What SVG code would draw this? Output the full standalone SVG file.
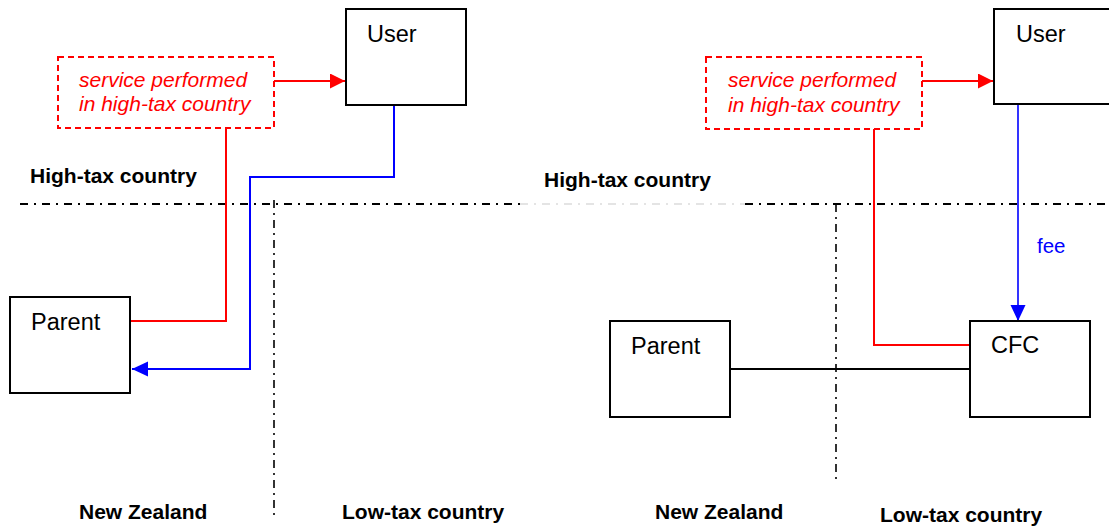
<svg xmlns="http://www.w3.org/2000/svg" width="1109" height="529" viewBox="0 0 1109 529">
<style>
.box{fill:#fff;stroke:#000;stroke-width:2}
.svc{fill:#fff;stroke:#ff0000;stroke-width:2;stroke-dasharray:6 4}
.lbl{font-family:"Liberation Sans",Arial,sans-serif;font-size:23.5px;fill:#000}
.it{font-family:"Liberation Sans",Arial,sans-serif;font-size:21px;font-style:italic;fill:#ff0000}
.bold{font-family:"Liberation Sans",Arial,sans-serif;font-size:21px;font-weight:bold;fill:#000}
.fee{font-family:"Liberation Sans",Arial,sans-serif;font-size:20.5px;fill:#0000ff}
.red{fill:none;stroke:#ff0000;stroke-width:2}
.blue{fill:none;stroke:#0000ff;stroke-width:2}
.blk{fill:none;stroke:#000;stroke-width:2}
.dd{fill:none;stroke:#000;stroke-width:2;stroke-dasharray:8 6 2 6}
.ddv{fill:none;stroke:#000;stroke-width:1.6;stroke-dasharray:8 5 2 5}
.ddg{fill:none;stroke:#dcdcdc;stroke-width:1.5;stroke-dasharray:8 6 2 6}
</style>
<defs>
<marker id="ar" markerWidth="16" markerHeight="16" refX="15" refY="7.5" orient="auto" markerUnits="userSpaceOnUse"><path d="M0,0 L15,7.5 L0,15 Z" fill="#ff0000"/></marker>
<marker id="ab" markerWidth="17" markerHeight="16" refX="16" refY="7.5" orient="auto" markerUnits="userSpaceOnUse"><path d="M0,0 L16,7.5 L0,15 Z" fill="#0000ff"/></marker>
</defs>
<g id="borders">
<path class="dd" d="M20,204 H520"/>
<path class="ddg" d="M520,204 H745"/>
<path class="dd" d="M745,204 H1109"/>
<path class="ddv" d="M274,200 V516"/>
<path class="ddv" d="M836,204 V483"/>
</g>
<g id="regions">
<text class="bold" x="30" y="183">High-tax country</text>
<text class="bold" x="544" y="187">High-tax country</text>
<text class="bold" x="79" y="519">New Zealand</text>
<text class="bold" x="342" y="519">Low-tax country</text>
<text class="bold" x="655" y="519">New Zealand</text>
<text class="bold" x="880" y="522">Low-tax country</text>
</g>
<g id="connectors">
<path class="red" d="M274,81 H345" marker-end="url(#ar)"/>
<path class="red" d="M226,128 V321 H130"/>
<path class="blue" d="M394,105 V177 H250 V369 H132" marker-end="url(#ab)"/>
<path class="red" d="M922,81 H993" marker-end="url(#ar)"/>
<path class="red" d="M874,129 V345 H970"/>
<path class="blue" style="stroke-width:1.6" d="M1018,104 V321" marker-end="url(#ab)"/>
<text class="fee" x="1037" y="253">fee</text>
<path class="blk" d="M731,369 H970"/>
</g>
<g id="user-left">
<rect class="box" x="346" y="9" width="120" height="96"/>
<text class="lbl" x="367" y="42">User</text>
</g>
<g id="service-left">
<rect class="svc" x="58" y="57" width="216" height="71"/>
<text class="it" x="79" y="87">service performed</text>
<text class="it" x="79" y="111">in high-tax country</text>
</g>
<g id="parent-left">
<rect class="box" x="10" y="297" width="120" height="96"/>
<text class="lbl" x="31" y="330">Parent</text>
</g>
<g id="user-right">
<rect class="box" x="994" y="9" width="120" height="95"/>
<text class="lbl" x="1016" y="42">User</text>
</g>
<g id="service-right">
<rect class="svc" x="706" y="57" width="216" height="72"/>
<text class="it" x="728" y="87">service performed</text>
<text class="it" x="728" y="112">in high-tax country</text>
</g>
<g id="parent-right">
<rect class="box" x="610" y="321" width="120" height="96"/>
<text class="lbl" x="631" y="354">Parent</text>
</g>
<g id="cfc">
<rect class="box" x="970" y="321" width="120" height="96"/>
<text class="lbl" x="991" y="353">CFC</text>
</g>
</svg>
